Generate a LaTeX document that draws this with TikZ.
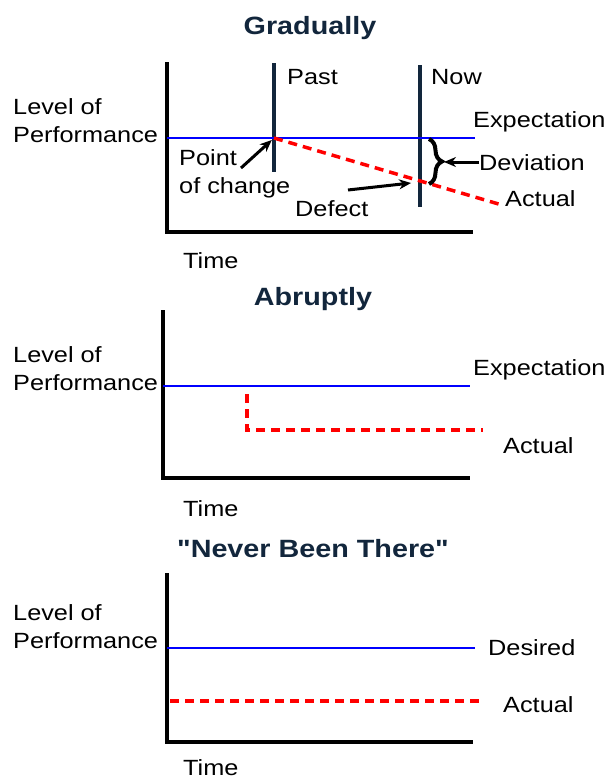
\documentclass[tikz,border=0pt]{standalone}
\usepackage{fontspec}
\setmainfont{Liberation Sans}[FakeStretch=1.15]
\newfontfamily\titlefont{Liberation Sans}[FakeStretch=1.15]
\usetikzlibrary{arrows.meta,decorations.pathreplacing}
\definecolor{navy}{RGB}{18,38,60}

\tikzset{
  lbl/.style={anchor=base west, inner sep=0pt, align=left, font=\fontsize{22}{28}\selectfont},
  ttl/.style={anchor=base, inner sep=0pt, text=navy, font=\fontsize{25}{30}\selectfont\titlefont\bfseries},
  axis/.style={line width=4.5pt, line join=miter},
  expect/.style={blue, line width=1.8pt},
  actual/.style={red, line width=3.5pt, dash pattern=on 9pt off 6pt},
  marker/.style={navy, line width=3.5pt},
  pointer/.style={-{Stealth[length=12pt,width=10pt]}, line width=3pt},
}

\begin{document}
\begin{tikzpicture}[x=1pt, y=-1pt]
\useasboundingbox (0,0) rectangle (609,780);

%axes
	\foreach \ax/\top/\bot/\rx/\lv/\tm [count=\i] in {167/62/232/473/142/268, 163/310/478/470/390/516, 167/573/742/473/648/775}{
		\draw[axis] (\ax,\top) -- (\ax,\bot) -- (\rx,\bot);
		\node[lbl] (lvl\i) at (13,\lv) {Level of\\Performance};
		\node[lbl] (time\i) at (183,\tm) {Time};
	}

%titles
	\node[ttl] (grad) at (310,34) {Gradually};
	\node[ttl] (abr) at (313,305) {Abruptly};
	\node[ttl] (never) at (313,557) {"Never Been There"};

%gradually
	\coordinate (chg) at (274,138);
	\coordinate (dfc) at (420,182);
	\draw[marker] (274,63) -- (274,172);
	\draw[marker] (420,65) -- (420,207);
	\draw[expect] (167,138) -- (475,138);
	\draw[actual] (chg) -- (502,205);

	\node[lbl] (past) at (287,84) {Past};
	\node[lbl] (now) at (431,84) {Now};
	\node[lbl] (exp1) at (473,127) {Expectation};
	\node[lbl] (dev) at (479,170) {Deviation};
	\node[lbl] (act1) at (505,206) {Actual};
	\node[lbl] (defect) at (295,216) {Defect};
	\node[lbl] (point) at (179,193) {Point\\of change};

	\draw[decorate, decoration={brace, amplitude=13pt}, line width=4pt] (429,139) -- (429,184);
	\coordinate (tip) at (444,162);
	\draw[pointer] (dev.west |- tip) -- (tip);
	\draw[pointer, shorten >=3pt] (241,168) -- (chg);
	\draw[pointer, shorten >=9pt] (348,190) -- (dfc);

%abruptly
	\draw[expect] (163,386) -- (470,386);
	\draw[actual] (247,394) -- (247,430) -- (483,430);
	\node[lbl] (exp2) at (473,375) {Expectation};
	\node[lbl] (act2) at (503,453) {Actual};

%never been there
	\draw[expect] (167,648) -- (475,648);
	\draw[actual] (170,701) -- (483,701);
	\node[lbl] (des) at (488,655) {Desired};
	\node[lbl] (act3) at (503,712) {Actual};

\end{tikzpicture}
\end{document}
